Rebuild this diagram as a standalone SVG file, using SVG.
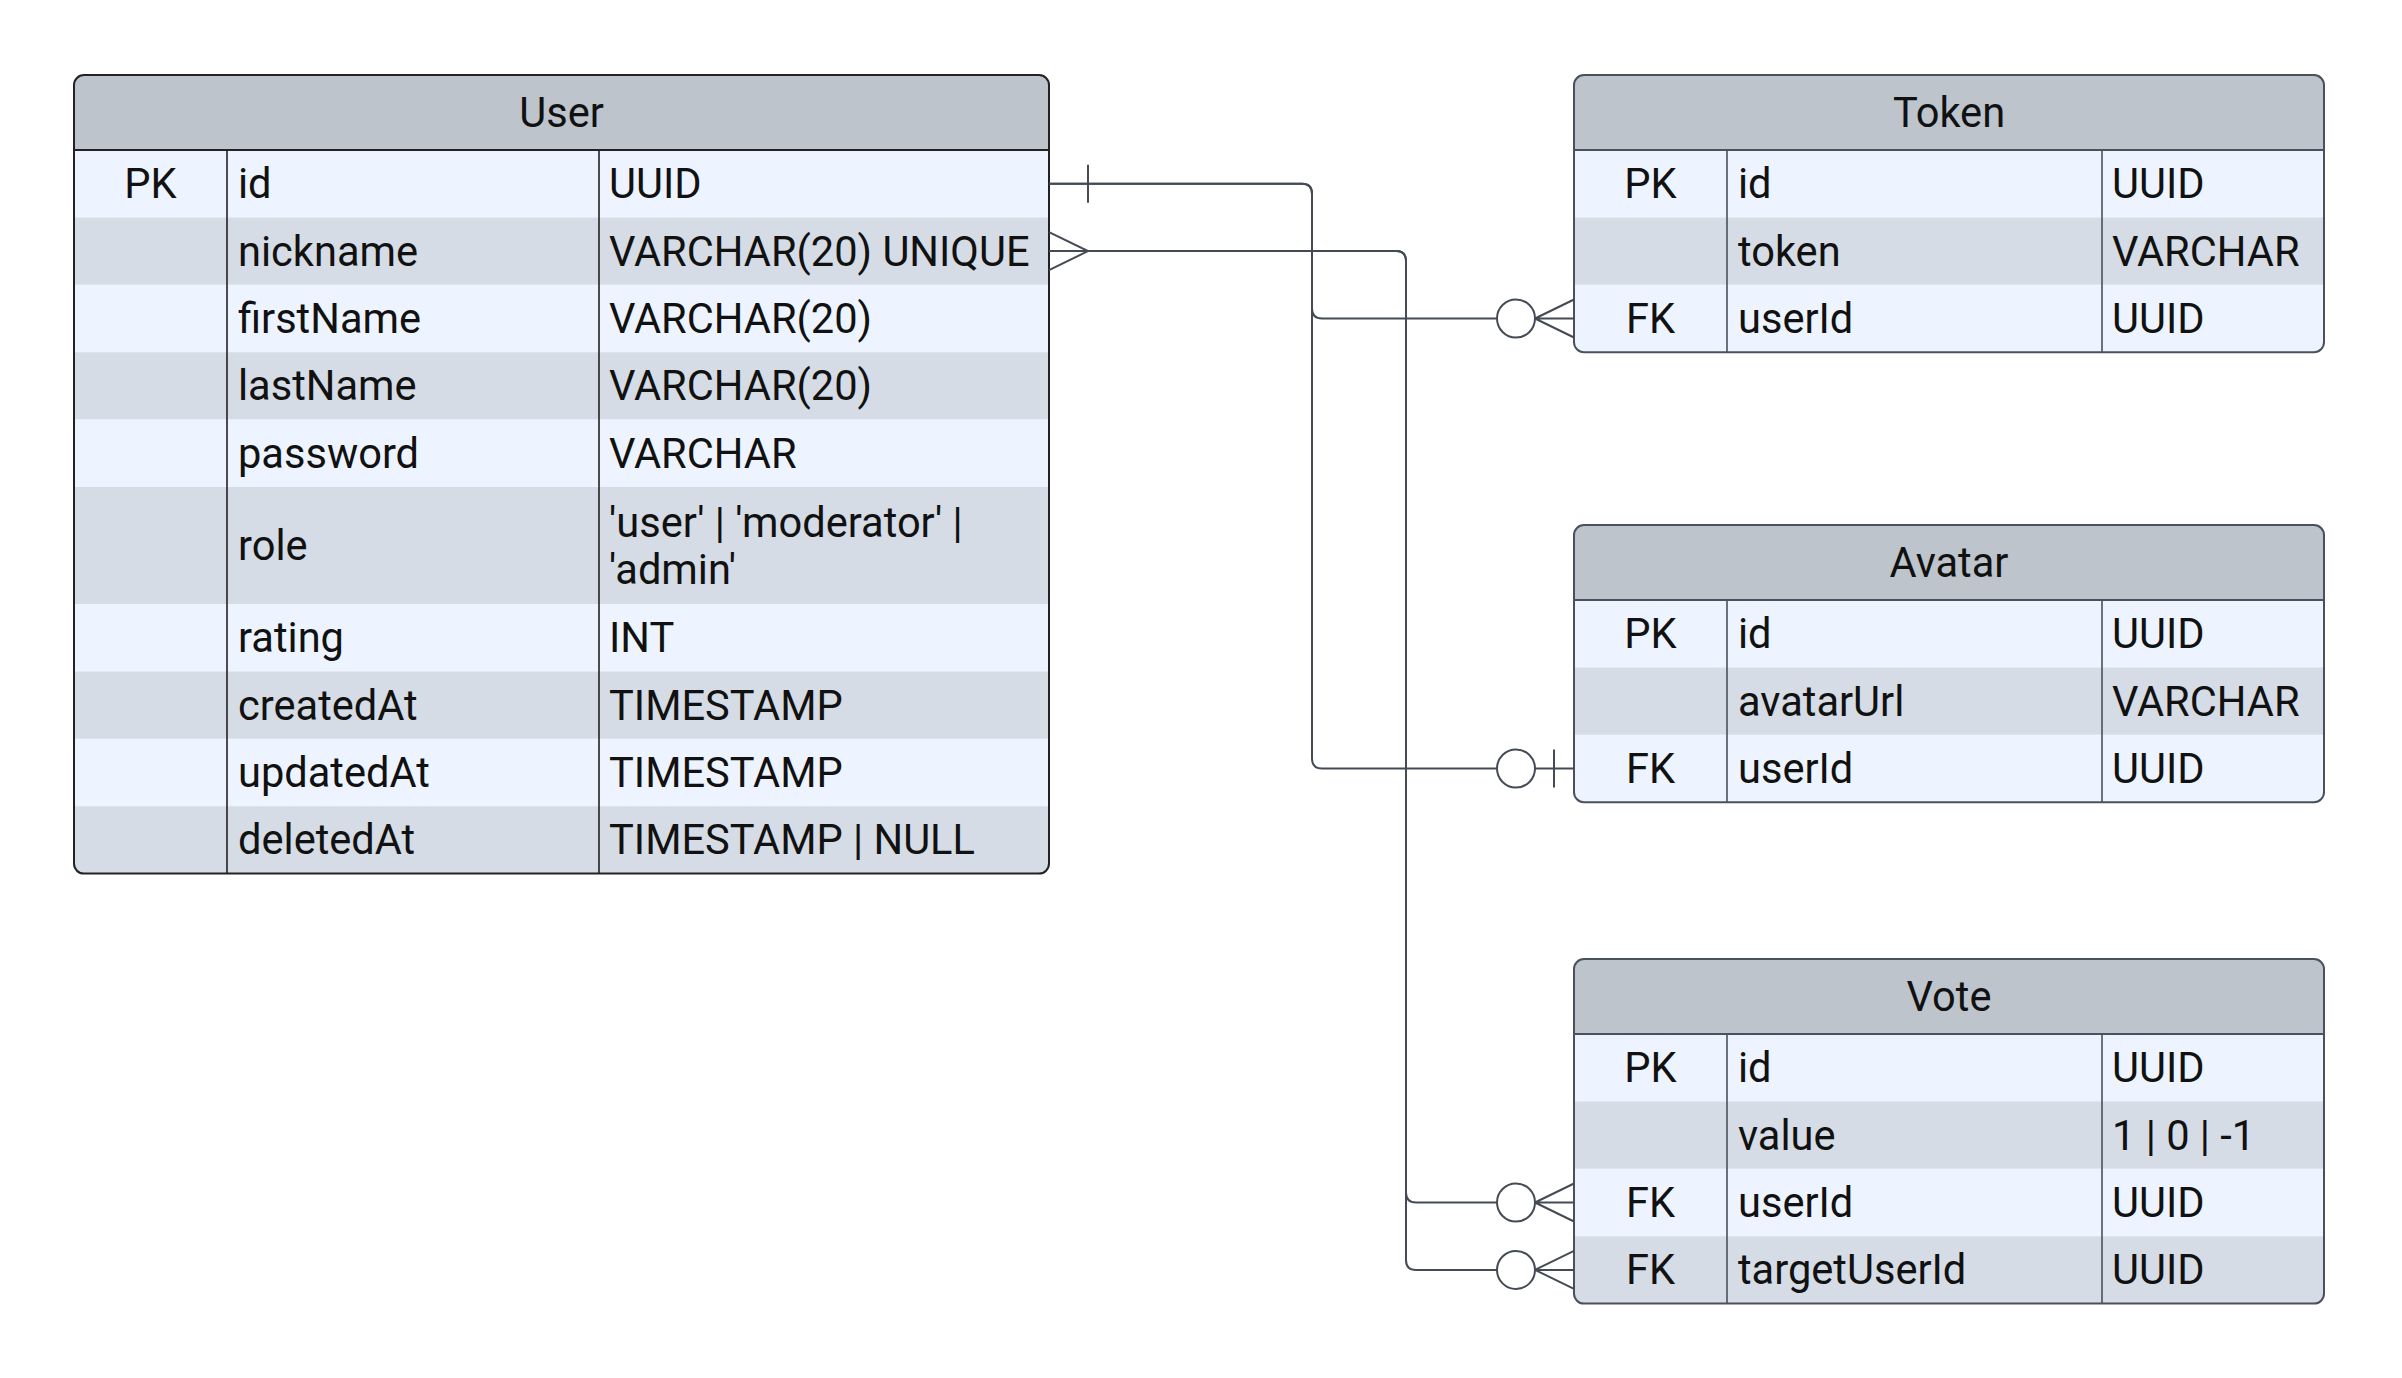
<svg xmlns="http://www.w3.org/2000/svg" width="2402" height="1378" viewBox="0 0 2402 1378">
<defs>
<style>
.hdr{fill:#BDC4CC}
.rl{fill:#EDF4FF}
.rd{fill:#D5DCE5}
.frame{fill:none;stroke:#4A515B;stroke-width:2}
.sep{stroke:#4A515B;stroke-width:2}
.div{stroke:#4A515B;stroke-width:1.6}
#user .frame,#user .sep,#user .div{stroke:#222}
.t{font-family:Roboto,"Liberation Sans",sans-serif;font-size:41.6px;fill:#111}
.c{text-anchor:middle}
.ln{fill:none;stroke:#454B54;stroke-width:2}
.ring{fill:#fff;stroke:#454B54;stroke-width:2}
</style>
<clipPath id="cUser"><rect x="74" y="75" width="975" height="798.6" rx="10"/></clipPath>
<clipPath id="cToken"><rect x="1574" y="75" width="750" height="277.2" rx="10"/></clipPath>
<clipPath id="cAvatar"><rect x="1574" y="525" width="750" height="277.2" rx="10"/></clipPath>
<clipPath id="cVote"><rect x="1574" y="959" width="750" height="344.6" rx="10"/></clipPath>
<g id="zeroMany"><path class="ln" d="M19,0 H58 M19,0 L58,-19 M19,0 L58,19"/><circle class="ring" cx="0" cy="0" r="19"/></g>
<g id="zeroOne"><path class="ln" d="M19,0 H58 M38,-19 V19"/><circle class="ring" cx="0" cy="0" r="19"/></g>
</defs>
<rect x="0" y="0" width="2402" height="1378" fill="#ffffff"/>

<g id="user">
<g clip-path="url(#cUser)">
<rect class="hdr" x="74" y="75" width="975" height="75"/>
<rect class="rl" x="74" y="150" width="975" height="67.4"/>
<rect class="rd" x="74" y="217.4" width="975" height="67.4"/>
<rect class="rl" x="74" y="284.8" width="975" height="67.4"/>
<rect class="rd" x="74" y="352.2" width="975" height="67.4"/>
<rect class="rl" x="74" y="419.6" width="975" height="67.4"/>
<rect class="rd" x="74" y="487" width="975" height="117"/>
<rect class="rl" x="74" y="604" width="975" height="67.4"/>
<rect class="rd" x="74" y="671.4" width="975" height="67.4"/>
<rect class="rl" x="74" y="738.8" width="975" height="67.4"/>
<rect class="rd" x="74" y="806.2" width="975" height="67.4"/>
</g>
<line class="sep" x1="74" y1="150" x2="1049" y2="150"/>
<line class="div" x1="227" y1="150" x2="227" y2="873.6"/>
<line class="div" x1="599" y1="150" x2="599" y2="873.6"/>
<rect class="frame" x="74" y="75" width="975" height="798.6" rx="10"/>
<text class="t c" x="561.5" y="127">User</text>
<text class="t c" x="150.5" y="198.2">PK</text>
<text class="t" x="238" y="198.2">id</text>
<text class="t" x="609" y="198.2">UUID</text>
<text class="t" x="238" y="265.6">nickname</text>
<text class="t" x="609" y="265.6">VARCHAR(20) UNIQUE</text>
<text class="t" x="238" y="333">firstName</text>
<text class="t" x="609" y="333">VARCHAR(20)</text>
<text class="t" x="238" y="400.4">lastName</text>
<text class="t" x="609" y="400.4">VARCHAR(20)</text>
<text class="t" x="238" y="467.8">password</text>
<text class="t" x="609" y="467.8">VARCHAR</text>
<text class="t" x="238" y="560">role</text>
<text class="t" x="609" y="537">'user' | 'moderator' |</text>
<text class="t" x="609" y="584">'admin'</text>
<text class="t" x="238" y="652.2">rating</text>
<text class="t" x="609" y="652.2">INT</text>
<text class="t" x="238" y="719.6">createdAt</text>
<text class="t" x="609" y="719.6">TIMESTAMP</text>
<text class="t" x="238" y="787">updatedAt</text>
<text class="t" x="609" y="787">TIMESTAMP</text>
<text class="t" x="238" y="854.4">deletedAt</text>
<text class="t" x="609" y="854.4">TIMESTAMP | NULL</text>
</g>

<g id="token">
<g clip-path="url(#cToken)">
<rect class="hdr" x="1574" y="75" width="750" height="75"/>
<rect class="rl" x="1574" y="150" width="750" height="67.4"/>
<rect class="rd" x="1574" y="217.4" width="750" height="67.4"/>
<rect class="rl" x="1574" y="284.8" width="750" height="67.4"/>
</g>
<line class="sep" x1="1574" y1="150" x2="2324" y2="150"/>
<line class="div" x1="1727" y1="150" x2="1727" y2="352.2"/>
<line class="div" x1="2102" y1="150" x2="2102" y2="352.2"/>
<rect class="frame" x="1574" y="75" width="750" height="277.2" rx="10"/>
<text class="t c" x="1949" y="127">Token</text>
<text class="t c" x="1650.5" y="198.2">PK</text>
<text class="t" x="1738" y="198.2">id</text>
<text class="t" x="2112" y="198.2">UUID</text>
<text class="t" x="1738" y="265.6">token</text>
<text class="t" x="2112" y="265.6">VARCHAR</text>
<text class="t c" x="1650.5" y="333">FK</text>
<text class="t" x="1738" y="333">userId</text>
<text class="t" x="2112" y="333">UUID</text>
</g>

<g id="avatar">
<g clip-path="url(#cAvatar)">
<rect class="hdr" x="1574" y="525" width="750" height="75"/>
<rect class="rl" x="1574" y="600" width="750" height="67.4"/>
<rect class="rd" x="1574" y="667.4" width="750" height="67.4"/>
<rect class="rl" x="1574" y="734.8" width="750" height="67.4"/>
</g>
<line class="sep" x1="1574" y1="600" x2="2324" y2="600"/>
<line class="div" x1="1727" y1="600" x2="1727" y2="802.2"/>
<line class="div" x1="2102" y1="600" x2="2102" y2="802.2"/>
<rect class="frame" x="1574" y="525" width="750" height="277.2" rx="10"/>
<text class="t c" x="1949" y="577">Avatar</text>
<text class="t c" x="1650.5" y="648.2">PK</text>
<text class="t" x="1738" y="648.2">id</text>
<text class="t" x="2112" y="648.2">UUID</text>
<text class="t" x="1738" y="715.6">avatarUrl</text>
<text class="t" x="2112" y="715.6">VARCHAR</text>
<text class="t c" x="1650.5" y="783">FK</text>
<text class="t" x="1738" y="783">userId</text>
<text class="t" x="2112" y="783">UUID</text>
</g>

<g id="vote">
<g clip-path="url(#cVote)">
<rect class="hdr" x="1574" y="959" width="750" height="75"/>
<rect class="rl" x="1574" y="1034" width="750" height="67.4"/>
<rect class="rd" x="1574" y="1101.4" width="750" height="67.4"/>
<rect class="rl" x="1574" y="1168.8" width="750" height="67.4"/>
<rect class="rd" x="1574" y="1236.2" width="750" height="67.4"/>
</g>
<line class="sep" x1="1574" y1="1034" x2="2324" y2="1034"/>
<line class="div" x1="1727" y1="1034" x2="1727" y2="1303.6"/>
<line class="div" x1="2102" y1="1034" x2="2102" y2="1303.6"/>
<rect class="frame" x="1574" y="959" width="750" height="344.6" rx="10"/>
<text class="t c" x="1949" y="1011">Vote</text>
<text class="t c" x="1650.5" y="1082.2">PK</text>
<text class="t" x="1738" y="1082.2">id</text>
<text class="t" x="2112" y="1082.2">UUID</text>
<text class="t" x="1738" y="1149.6">value</text>
<text class="t" x="2112" y="1149.6">1 | 0 | -1</text>
<text class="t c" x="1650.5" y="1217">FK</text>
<text class="t" x="1738" y="1217">userId</text>
<text class="t" x="2112" y="1217">UUID</text>
<text class="t c" x="1650.5" y="1284.4">FK</text>
<text class="t" x="1738" y="1284.4">targetUserId</text>
<text class="t" x="2112" y="1284.4">UUID</text>
</g>

<g id="connectors">
<path class="ln" d="M1049,183.7 H1302 Q1312,183.7 1312,193.7 V308.5 Q1312,318.5 1322,318.5 H1497"/>
<path class="ln" d="M1049,183.7 H1302 Q1312,183.7 1312,193.7 V758.5 Q1312,768.5 1322,768.5 H1497"/>
<path class="ln" d="M1088,164.7 V202.7"/>
<path class="ln" d="M1049,251.1 H1396 Q1406,251.1 1406,261.1 V1192.5 Q1406,1202.5 1416,1202.5 H1497"/>
<path class="ln" d="M1049,251.1 H1396 Q1406,251.1 1406,261.1 V1259.9 Q1406,1269.9 1416,1269.9 H1497"/>
<path class="ln" d="M1049,232.1 L1088,251.1 L1049,270.1"/>
<use href="#zeroMany" x="1516" y="318.5"/>
<use href="#zeroOne" x="1516" y="768.5"/>
<use href="#zeroMany" x="1516" y="1202.5"/>
<use href="#zeroMany" x="1516" y="1269.9"/>
</g>
</svg>
